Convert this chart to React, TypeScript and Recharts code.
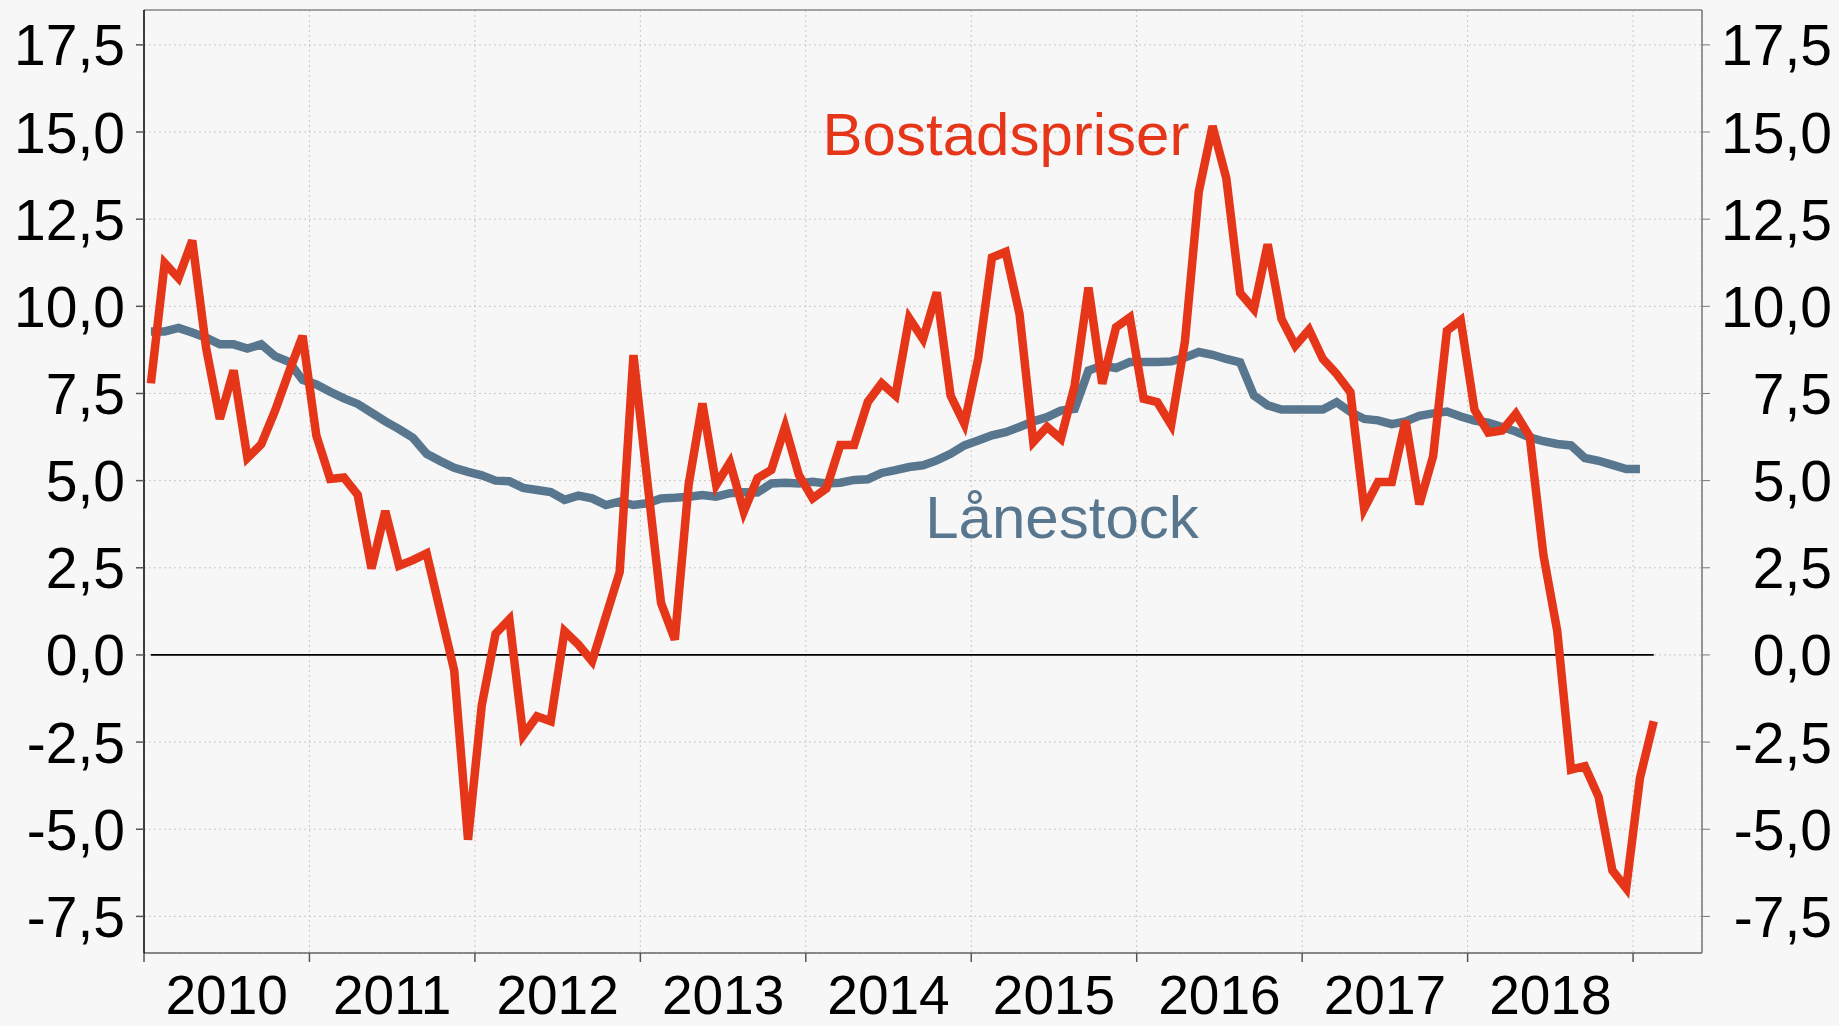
import React from 'react';
import { LineChart, Line, XAxis, YAxis, CartesianGrid, ReferenceLine } from 'recharts';

// ---- data ----
const YEAR_LABELS: string[] = ['2010', '2011', '2012', '2013', '2014', '2015', '2016', '2017', '2018'];
const MONTH_NAMES: string[] = ['01', '02', '03', '04', '05', '06', '07', '08', '09', '10', '11', '12'];
const Y_TICKS: number[] = [-7.5, -5, -2.5, 0, 2.5, 5, 7.5, 10, 12.5, 15, 17.5];

// Bostadspriser (annual % change), monthly from 2010-01
const BOSTADSPRISER: number[] = [
  7.79, 11.24, 10.81, 11.89, 8.82, 6.77, 8.16, 5.65, 6.04, 7.0, 8.1, 9.15,
  6.29, 5.05, 5.09, 4.59, 2.48, 4.13, 2.56, 2.72, 2.91, 1.23, -0.45, -5.3,
  -1.44, 0.61, 1.02, -2.31, -1.76, -1.9, 0.68, 0.3, -0.18, 1.1, 2.38, 8.6,
  5.0, 1.49, 0.44, 4.88, 7.21, 4.88, 5.52, 4.11, 5.07, 5.31, 6.55, 5.16,
  4.49, 4.78, 6.02, 6.02, 7.26, 7.79, 7.44, 9.66, 9.06, 10.4, 7.44, 6.63,
  8.49, 11.4, 11.56, 9.78, 6.11, 6.54, 6.2, 7.73, 10.54, 7.78, 9.4, 9.68,
  7.35, 7.25, 6.6, 9.0, 13.28, 15.17, 13.67, 10.38, 9.92, 11.78, 9.64, 8.87,
  9.33, 8.49, 8.06, 7.54, 4.2, 4.96, 4.96, 6.72, 4.32, 5.7, 9.3, 9.6,
  7.03, 6.38, 6.44, 6.92, 6.27, 2.86, 0.69, -3.29, -3.19, -4.07, -6.18, -6.69,
  -3.53, -1.9,
];

// Lånestock (annual % change), monthly from 2010-01
const LANESTOCK: number[] = [
  9.28, 9.28, 9.38, 9.25, 9.1, 8.91, 8.91, 8.79, 8.91, 8.57, 8.41, 7.89,
  7.76, 7.55, 7.36, 7.2, 6.95, 6.7, 6.48, 6.23, 5.77, 5.56, 5.37, 5.25,
  5.15, 5.0, 4.98, 4.79, 4.73, 4.67, 4.45, 4.57, 4.49, 4.3, 4.4, 4.3,
  4.35, 4.49, 4.51, 4.54, 4.59, 4.54, 4.64, 4.67, 4.66, 4.92, 4.94, 4.92,
  4.97, 4.92, 4.94, 5.02, 5.04, 5.22, 5.3, 5.39, 5.44, 5.58, 5.77, 6.01,
  6.15, 6.3, 6.39, 6.54, 6.7, 6.82, 7.01, 7.06, 8.16, 8.3, 8.23, 8.4,
  8.4, 8.4, 8.42, 8.53, 8.69, 8.61, 8.49, 8.39, 7.44, 7.16, 7.04, 7.04,
  7.04, 7.04, 7.25, 6.97, 6.77, 6.73, 6.62, 6.7, 6.86, 6.93, 6.98, 6.84,
  6.72, 6.66, 6.54, 6.41, 6.24, 6.13, 6.05, 6.01, 5.65, 5.57, 5.45, 5.33,
  5.33,
];

const MONTHS: string[] = [];
for (let y = 2010; y <= 2019; y++) {
  for (const m of MONTH_NAMES) MONTHS.push(`${y}-${m}`);
}

const data = BOSTADSPRISER.map((v, i) => ({
  month: MONTHS[i],
  x: i + 0.5,
  bostad: v,
  lane: i < LANESTOCK.length ? LANESTOCK[i] : null,
}));

// ---- layout / style ----
const W = 1839;
const H = 1026;
const LEFT_W = 144;
const RIGHT_W = 137;
const TOP = 10;
const XAXIS_H = 73;
const X_DOMAIN: [number, number] = [0, 113];
const Y_DOMAIN: [number, number] = [-8.55, 18.5];
const YEAR_TICKS = [0, 12, 24, 36, 48, 60, 72, 84, 96, 108];
const PLOT_W = W - LEFT_W - RIGHT_W;
const HALF_YEAR_PX = (PLOT_W / (X_DOMAIN[1] - X_DOMAIN[0])) * 6;

const RED = '#E5361A';
const BLUE = '#58778F';
const BG = '#F7F7F7';
const FONT = '"Liberation Sans", Arial, Helvetica, sans-serif';
const FS = 57;
const XFS = 55;

const fmt = (v: number) => v.toFixed(1).replace('.', ',');

const LeftTick = (props: any) => {
  const { x, y, payload } = props;
  return (
    <text x={x} y={y} dy="0.36em" textAnchor="end" fontSize={FS} fontFamily={FONT} fill="#000">
      {fmt(payload.value)}
    </text>
  );
};

const RightTick = (props: any) => {
  const { x, y, payload } = props;
  return (
    <text x={x + 122} y={y} dy="0.36em" textAnchor="end" fontSize={FS} fontFamily={FONT} fill="#000">
      {fmt(payload.value)}
    </text>
  );
};

const YearTick = (props: any) => {
  const { x, y, payload } = props;
  const idx = Math.round(payload.value / 12);
  if (idx >= YEAR_LABELS.length) return <g />;
  return (
    <text x={x + HALF_YEAR_PX} y={y + 52} textAnchor="middle" fontSize={XFS} fontFamily={FONT} fill="#000">
      {YEAR_LABELS[idx]}
    </text>
  );
};

export default function App() {
  return (
    <div style={{ position: 'fixed', left: 0, top: 0, width: W, height: H, background: BG }}>
      <LineChart
        width={W}
        height={H}
        data={data}
        margin={{ top: TOP, right: 0, bottom: 0, left: 0 }}
      >
        <CartesianGrid stroke="#C8C8C8" strokeDasharray="2 3" strokeWidth={1} />
        <XAxis
          dataKey="x"
          type="number"
          domain={X_DOMAIN}
          ticks={YEAR_TICKS}
          allowDataOverflow
          height={XAXIS_H}
          tickSize={9}
          tickMargin={0}
          stroke="#555"
          axisLine={{ stroke: '#666', strokeWidth: 1.5 }}
          tickLine={{ stroke: '#555', strokeWidth: 1.5 }}
          tick={<YearTick />}
          interval={0}
        />
        <YAxis
          type="number"
          domain={Y_DOMAIN}
          ticks={Y_TICKS}
          allowDataOverflow
          width={LEFT_W}
          tickSize={8}
          tickMargin={11}
          axisLine={{ stroke: '#000', strokeWidth: 1.5 }}
          tickLine={{ stroke: '#555', strokeWidth: 1.5 }}
          tick={<LeftTick />}
          interval={0}
        />
        <YAxis
          yAxisId="right"
          orientation="right"
          type="number"
          domain={Y_DOMAIN}
          ticks={Y_TICKS}
          allowDataOverflow
          width={RIGHT_W}
          tickSize={8}
          tickMargin={0}
          axisLine={{ stroke: '#777', strokeWidth: 1.5 }}
          tickLine={{ stroke: '#777', strokeWidth: 1 }}
          tick={<RightTick />}
          interval={0}
        />
        <ReferenceLine y={Y_DOMAIN[1]} stroke="#888" strokeWidth={1.5} />
        <ReferenceLine
          segment={[{ x: 0.5, y: 0 }, { x: 109.5, y: 0 }]}
          stroke="#000"
          strokeWidth={1.8}
        />
        <Line
          dataKey="lane"
          type="linear"
          stroke={BLUE}
          strokeWidth={8.5}
          dot={false}
          activeDot={false}
          isAnimationActive={false}
          strokeLinejoin="miter"
        />
        <Line
          dataKey="bostad"
          type="linear"
          stroke={RED}
          strokeWidth={8.5}
          dot={false}
          activeDot={false}
          isAnimationActive={false}
          strokeLinejoin="miter"
        />
      </LineChart>
      <svg
        width={W}
        height={H}
        style={{ position: 'absolute', left: 0, top: 0, pointerEvents: 'none' }}
      >
        <text x={1006} y={155} textAnchor="middle" fontSize={60} fontFamily={FONT} fill={RED}>
          Bostadspriser
        </text>
        <text x={1062} y={538} textAnchor="middle" fontSize={60} fontFamily={FONT} fill={BLUE}>
          Lånestock
        </text>
      </svg>
    </div>
  );
}
